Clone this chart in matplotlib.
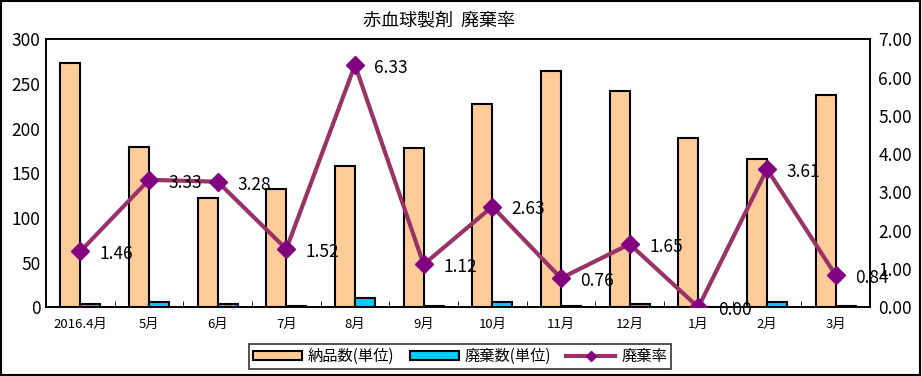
import matplotlib
matplotlib.use("Agg")
import matplotlib.pyplot as plt
import numpy as np

plt.rcParams['font.family'] = ['Noto Sans CJK JP', 'DejaVu Sans']

months = ['2016.4月', '5月', '6月', '7月', '8月', '9月', '10月', '11月', '12月', '1月', '2月', '3月']
delivered = [274, 180, 122, 132, 158, 178, 228, 264, 242, 189, 166, 238]
discarded = [4, 6, 4, 2, 10, 2, 6, 2, 4, 0, 6, 2]
rate = [1.46, 3.33, 3.28, 1.52, 6.33, 1.12, 2.63, 0.76, 1.65, 0.00, 3.61, 0.84]

fig = plt.figure(figsize=(9.22, 3.76), dpi=100)
ax = fig.add_axes([46/922, 1-307.3/376, 824/922, 268/376])
ax2 = ax.twinx()

x = np.arange(len(months))
w = 0.29
b1 = ax.bar(x - w/2, delivered, w, color='#FFCC99', edgecolor='black', linewidth=1.5, label='納品数(単位)', zorder=2)
b2 = ax.bar(x + w/2, discarded, w, color='#00CCFF', edgecolor='black', linewidth=1.5, label='廃棄数(単位)', zorder=2)

ln, = ax2.plot(x, rate, color='#993366', linewidth=3, marker='D', markersize=9,
               markerfacecolor='#800080', markeredgecolor='#800080', label='廃棄率', zorder=3)
for xi, r in zip(x, rate):
    ax2.annotate('%.2f' % r, (xi, r), xytext=(14, -2), textcoords='offset points',
                 ha='left', va='center', fontsize=12.5, zorder=4)

ax.set_xlim(-0.5, len(months) - 0.5)
ax.set_ylim(0, 300)
ax2.set_ylim(0, 7)
ax.set_yticks(range(0, 301, 50))
ax2.set_yticks(range(0, 8))
ax2.set_yticklabels(['%.2f' % v for v in range(0, 8)])

ax.set_xticks(x)
ax.set_xticklabels(months, fontsize=9.5)
ax.set_xticks(np.arange(-0.5, len(months), 1), minor=True)
ax.tick_params(axis='x', which='major', length=0, pad=8)
ax.tick_params(axis='x', which='minor', length=4, direction='in')
ax.tick_params(axis='y', length=0, labelsize=12.5, pad=4)
ax2.tick_params(axis='y', length=0, labelsize=12.5, pad=6)
for a in (ax, ax2):
    for s in a.spines.values():
        s.set_linewidth(1.2)

fig.text(438.5/922, 1 - 20/376, '赤血球製剤  廃棄率', ha='center', va='center', fontsize=13)

leg = fig.legend(handles=[b1, b2, ln], loc='center', bbox_to_anchor=(0.499, 1 - 356.5/376),
                 ncol=3, fontsize=11, frameon=True, fancybox=False, edgecolor='black',
                 handlelength=3.2, handleheight=0.6, columnspacing=1.0, handletextpad=0.4,
                 borderpad=0.25, markerscale=0.6)
leg.get_frame().set_linewidth(1.2)

fig.patches.append(plt.Rectangle((0.001, 0.002), 0.997, 0.995, transform=fig.transFigure,
                                 fill=False, edgecolor='black', linewidth=1.5))

fig.savefig('out.png', dpi=100)
